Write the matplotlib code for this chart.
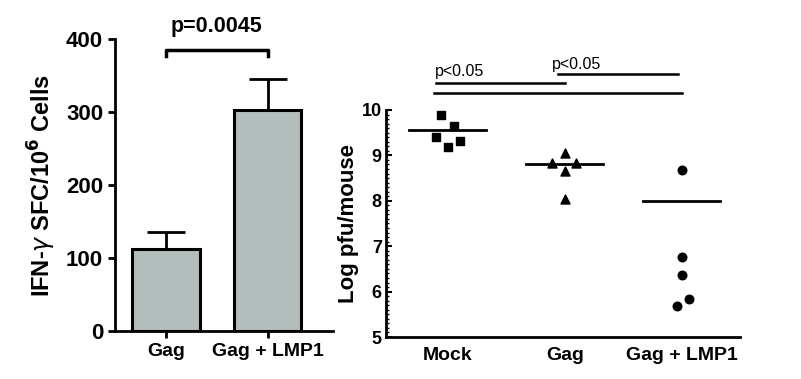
import numpy as np
import matplotlib.pyplot as plt
from matplotlib.ticker import MultipleLocator

plt.rcParams['font.family'] = ['Liberation Sans', 'DejaVu Sans']

# left panel: ELISPOT bars
bar_groups = ['Gag', 'Gag + LMP1']
bar_means = [112, 303]
bar_errs = [24, 42]
bar_pvalue = 'p=0.0045'

# right panel: virus titers
dot_groups = ['Mock', 'Gag', 'Gag + LMP1']
mock_vals = [9.89, 9.65, 9.40, 9.32, 9.19]
mock_jit = [-0.06, 0.05, -0.10, 0.10, 0.0]
gag_vals = [9.05, 8.84, 8.84, 8.66, 8.05]
gag_jit = [0.0, -0.11, 0.10, 0.0, 0.0]
lmp1_vals = [8.68, 6.77, 6.36, 5.83, 5.68]
lmp1_jit = [0.0, 0.0, 0.0, 0.06, -0.04]
group_lines = [9.56, 8.80, 8.00]

fig = plt.figure(figsize=(8.01, 3.79), dpi=100)

# ---- left
ax1 = fig.add_axes([0.1436, 0.1266, 0.272, 0.7705])
x = np.arange(len(bar_groups))
ax1.bar(x, bar_means, width=0.66, color='#b3bdbb', edgecolor='black', linewidth=2.2, zorder=2)
ax1.errorbar(x, bar_means, yerr=[[0, 0], bar_errs], fmt='none', ecolor='black',
             elinewidth=2, capsize=14, capthick=2, zorder=1)
ax1.set_xlim(-0.5, 1.64)
ax1.set_ylim(0, 400)
ax1.set_yticks([0, 100, 200, 300, 400])
ax1.set_xticks(x)
ax1.set_xticklabels(bar_groups, fontsize=14, fontweight='bold')
for lab in ax1.get_yticklabels():
    lab.set_fontsize(16)
    lab.set_fontweight('bold')
ax1.spines['top'].set_visible(False)
ax1.spines['right'].set_visible(False)
ax1.spines['left'].set_linewidth(2)
ax1.spines['bottom'].set_linewidth(2)
ax1.tick_params(width=2, length=5)
ax1.set_ylabel('IFN-$\\gamma$ SFC/10$^{\\mathbf{6}}$ Cells', fontsize=17, fontweight='bold', labelpad=6)

# bracket above bars
ax1.plot([0, 0, 1, 1], [377, 385, 385, 377], color='black', lw=2.5, clip_on=False)
ax1.text(0.5, 403, bar_pvalue, ha='center', va='bottom', fontsize=15.5, fontweight='bold')

# ---- right
ax2 = fig.add_axes([0.4819, 0.1108, 0.442, 0.599])
pos = [1, 2, 3]
ax2.scatter(np.add(pos[0], mock_jit), mock_vals, marker='s', s=38, color='black', zorder=3)
ax2.scatter(np.add(pos[1], gag_jit), gag_vals, marker='^', s=42, color='black', zorder=3)
ax2.scatter(np.add(pos[2], lmp1_jit), lmp1_vals, marker='o', s=38, color='black', zorder=3)
for p, m in zip(pos, group_lines):
    ax2.plot([p - 0.33, p + 0.33], [m, m], color='black', lw=2)

ax2.set_xlim(0.47, 3.5)
ax2.set_ylim(5, 10)
ax2.set_xticks(pos)
ax2.set_xticklabels(dot_groups, fontsize=14, fontweight='bold')
ax2.tick_params(axis='x', length=0, pad=7)
ax2.yaxis.set_minor_locator(MultipleLocator(0.1))
ax2.tick_params(axis='y', which='major', direction='in', length=4, width=1.5, pad=3)
ax2.tick_params(axis='y', which='minor', direction='in', length=2.5, width=1)
for lab in ax2.get_yticklabels():
    lab.set_fontsize(13)
    lab.set_fontweight('bold')
ax2.spines['top'].set_visible(False)
ax2.spines['right'].set_visible(False)
ax2.spines['left'].set_linewidth(2)
ax2.spines['bottom'].set_linewidth(2)
ax2.set_ylabel('Log pfu/mouse', fontsize=16, fontweight='bold', labelpad=2)

# significance lines
ax2.plot([0.9, 2.0], [10.59, 10.59], color='black', lw=1.8, clip_on=False)
ax2.plot([1.94, 2.97], [10.79, 10.79], color='black', lw=1.8, clip_on=False)
ax2.plot([0.88, 3.0], [10.38, 10.38], color='black', lw=1.8, clip_on=False)
ax2.text(1.1, 10.68, 'p<0.05', ha='center', va='bottom', fontsize=11.5)
ax2.text(2.1, 10.84, 'p<0.05', ha='center', va='bottom', fontsize=11.5)

fig.savefig('out.png', dpi=100)
